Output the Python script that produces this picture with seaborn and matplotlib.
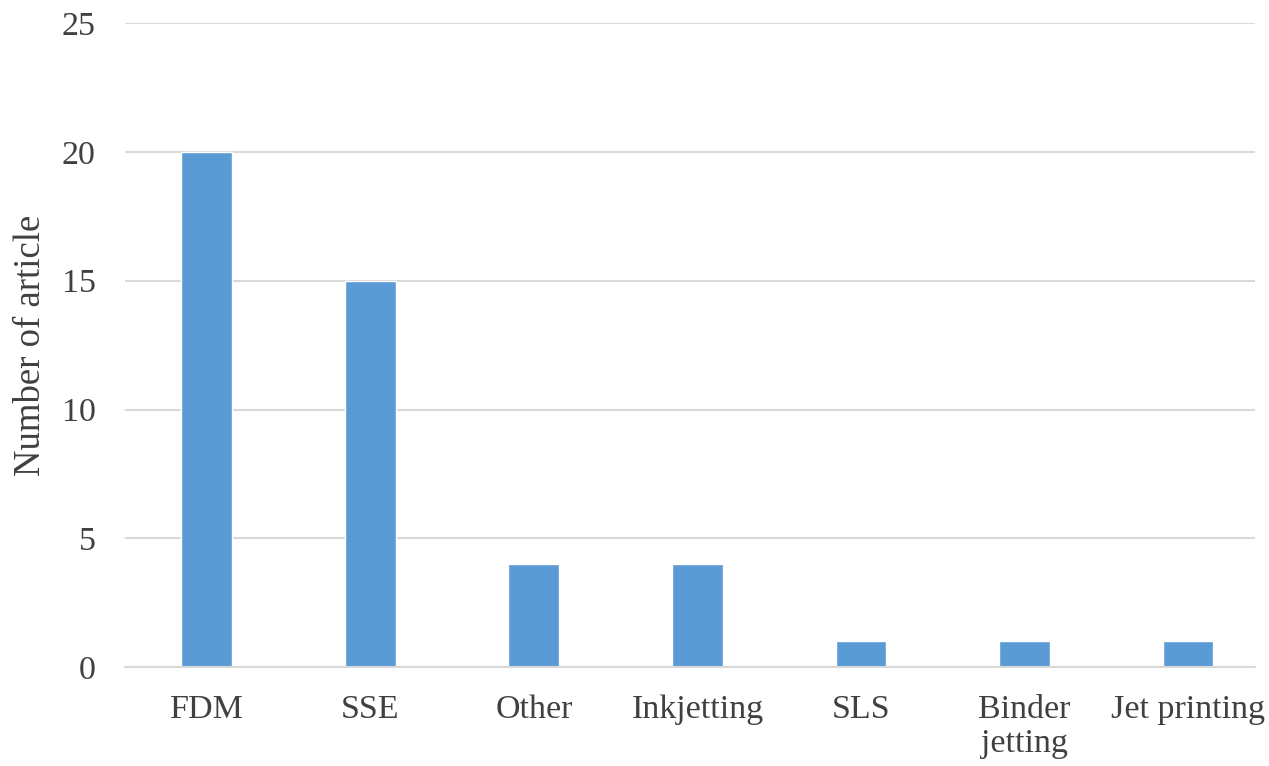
import matplotlib
matplotlib.use("Agg")
import matplotlib.pyplot as plt
import pandas as pd
import seaborn as sns

methods = ["FDM", "SSE", "Other", "Inkjetting", "SLS", "Binder\njetting", "Jet printing"]
articles = [20, 15, 4, 4, 1, 1, 1]

BAR_COLOR = "#5B9BD5"
GRID_COLOR = "#D9D9D9"
TEXT_COLOR = "#404040"

sns.set_theme(style="white")
plt.rcParams["font.family"] = ["Liberation Serif", "DejaVu Serif"]

df = pd.DataFrame({"method": methods, "articles": articles})

fig = plt.figure(figsize=(12.69, 7.66), dpi=100)
# axes box in figure fractions
ax = fig.add_axes([0.0985, 0.129, 0.8905, 0.841])

sns.barplot(data=df, x="method", y="articles", color=BAR_COLOR,
            width=0.31, saturation=1, ax=ax)

ax.set_ylim(0, 25)
ax.set_yticks(range(0, 26, 5))
ax.set_xlim(-0.5, len(methods) - 0.59)
ax.yaxis.grid(True, color=GRID_COLOR, linewidth=1.5)
ax.set_axisbelow(True)
for side in ["top", "right", "left"]:
    ax.spines[side].set_visible(False)
ax.spines["bottom"].set_color(GRID_COLOR)
ax.spines["bottom"].set_linewidth(1.5)

ax.tick_params(axis="both", length=0, labelsize=24.5, colors=TEXT_COLOR, pad=21)
ax.tick_params(axis="x", pad=20)
for lbl in ax.get_xticklabels():
    lbl.set_linespacing(1.12)
ax.set_xlabel("")
ax.set_ylabel("Number of article", fontsize=26.5, color=TEXT_COLOR, labelpad=10)

fig.savefig("out.png", dpi=100)
